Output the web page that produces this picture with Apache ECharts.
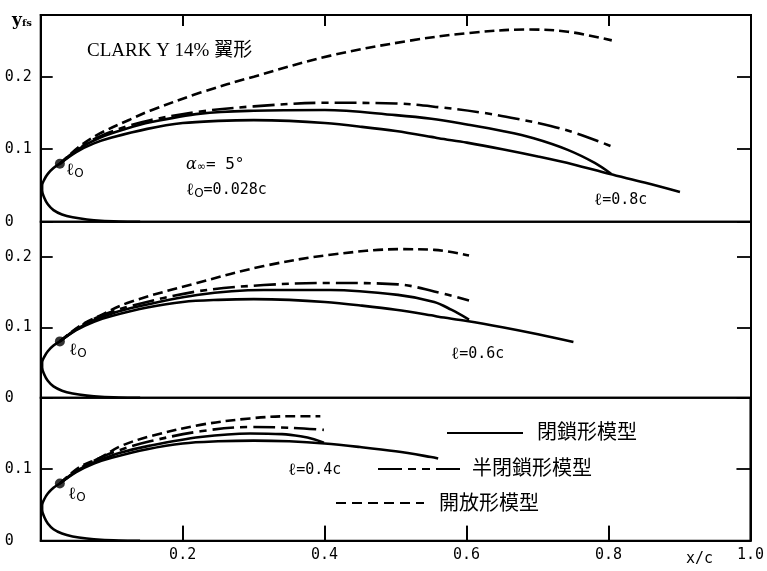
<!DOCTYPE html>
<html><head><meta charset="utf-8">
<script src="https://cdn.jsdelivr.net/npm/echarts@6/dist/echarts.min.js"></script>
<style>html,body{margin:0;padding:0;background:#fff}#c{width:767px;height:571px}</style>
</head><body><div id="c"></div>
<script>
// ---- tick labels ----
const xTickValues = [0.2, 0.4, 0.6, 0.8];
const xTickLabels = ['0.2', '0.4', '0.6', '0.8', '1.0'];
const yTickLabelsTop = ['0', '0.1', '0.2'];
const yTickLabelsMid = ['0', '0.1', '0.2'];
const yTickLabelsBot = ['0', '0.1'];
const panelTitles = ['0.8c', '0.6c', '0.4c'];
const legendNames = ['閉鎖形模型', '半閉鎖形模型', '開放形模型'];

// ---- airfoil (CLARK Y 14%) ----
const stagnationPoint = [0.027, 0.080];
const noseContour = [[0.027,0.080],[0.018,0.074],[0.010,0.066],[0.005,0.058],[0.002,0.050],[0.002,0.043],[0.005,0.033],[0.010,0.024],[0.018,0.016],[0.030,0.010],[0.045,0.006],[0.065,0.003],[0.085,0.0012],[0.11,0.0003],[0.14,0]];
const upperSurface = [[0.027,0.080],[0.05,0.096],[0.075,0.108],[0.10,0.116],[0.15,0.128],[0.20,0.136],[0.25,0.139],[0.30,0.140],[0.35,0.139],[0.40,0.136],[0.45,0.131],[0.50,0.125],[0.55,0.117],[0.56,0.115],[0.60,0.109],[0.65,0.100],[0.70,0.090],[0.75,0.079],[0.80,0.066],[0.85,0.054],[0.90,0.041]];
const surfaceEnd = [0.90, 0.75, 0.56];

// ---- free streamlines, l = 0.8c ----
const closedL08 = [[0.027,0.080],[0.055,0.101],[0.084,0.116],[0.12,0.128],[0.154,0.137],[0.225,0.149],[0.30,0.153],[0.40,0.154],[0.50,0.147],[0.55,0.142],[0.60,0.134],[0.65,0.125],[0.694,0.115],[0.742,0.099],[0.78,0.081],[0.803,0.066]];
const semiL08 = [[0.027,0.080],[0.055,0.102],[0.084,0.118],[0.12,0.131],[0.154,0.140],[0.225,0.152],[0.30,0.159],[0.40,0.164],[0.50,0.163],[0.56,0.158],[0.624,0.150],[0.67,0.142],[0.718,0.132],[0.76,0.120],[0.803,0.104]];
const openL08 = [[0.027,0.080],[0.055,0.104],[0.084,0.122],[0.126,0.141],[0.154,0.153],[0.225,0.178],[0.30,0.200],[0.408,0.229],[0.516,0.249],[0.601,0.260],[0.685,0.265],[0.742,0.262],[0.804,0.250]];

// ---- free streamlines, l = 0.6c ----
const closedL06 = [[0.027,0.080],[0.055,0.100],[0.084,0.114],[0.126,0.127],[0.22,0.146],[0.314,0.153],[0.408,0.153],[0.503,0.146],[0.554,0.136],[0.578,0.125],[0.603,0.111]];
const semiL06 = [[0.027,0.080],[0.055,0.101],[0.084,0.116],[0.126,0.130],[0.22,0.151],[0.314,0.160],[0.408,0.163],[0.503,0.161],[0.554,0.151],[0.603,0.138]];
const openL06 = [[0.027,0.080],[0.055,0.102],[0.084,0.117],[0.126,0.136],[0.22,0.163],[0.314,0.187],[0.408,0.203],[0.507,0.211],[0.554,0.210],[0.603,0.202]];

// ---- free streamlines, l = 0.4c ----
const closedL04 = [[0.027,0.080],[0.055,0.100],[0.084,0.113],[0.112,0.123],[0.154,0.133],[0.225,0.145],[0.295,0.150],[0.34,0.149],[0.366,0.146],[0.385,0.142],[0.399,0.137]];
const semiL04 = [[0.027,0.080],[0.055,0.101],[0.084,0.116],[0.112,0.127],[0.154,0.139],[0.225,0.153],[0.295,0.159],[0.35,0.158],[0.399,0.155]];
const openL04 = [[0.027,0.080],[0.055,0.103],[0.084,0.116],[0.112,0.132],[0.154,0.146],[0.225,0.162],[0.295,0.171],[0.35,0.174],[0.394,0.174]];

const panels = [
  {closed: closedL08, semi: semiL08, open: openL08, yLabels: yTickLabelsTop, max: 0.285},
  {closed: closedL06, semi: semiL06, open: openL06, yLabels: yTickLabelsMid, max: 0.25},
  {closed: closedL04, semi: semiL04, open: openL04, yLabels: yTickLabelsBot, max: 0.2}
];

const MONO = '"DejaVu Sans Mono", monospace';
const SERIF = '"DejaVu Serif", serif';
const CJK = '"Noto Sans CJK JP", sans-serif';
const gridPos = [{top: 15, height: 206.7}, {top: 221.7, height: 176}, {top: 397.7, height: 143}];

const grids = gridPos.map(g => ({left: 40.7, right: 16, top: g.top, height: g.height, show: true, borderColor: '#000', borderWidth: 2}));

const xAxes = [
  {type: 'value', gridIndex: 0, min: 0, max: 1, interval: 0.2, position: 'top',
   axisLine: {show: true, onZero: false, lineStyle: {color: '#000', width: 2}}, splitLine: {show: false},
   axisTick: {show: true, inside: true, length: 11, lineStyle: {color: '#000', width: 1.8}}, axisLabel: {show: false}},
  {type: 'value', gridIndex: 1, min: 0, max: 1, interval: 0.2, position: 'bottom',
   axisLine: {show: false, onZero: false}, splitLine: {show: false}, axisTick: {show: false}, axisLabel: {show: false}},
  {type: 'value', gridIndex: 2, min: 0, max: 1, interval: 0.2, position: 'bottom',
   axisLine: {show: true, onZero: false, lineStyle: {color: '#000', width: 2}}, splitLine: {show: false},
   axisTick: {show: true, inside: true, length: 15, lineStyle: {color: '#000', width: 1.8}},
   axisLabel: {show: true, color: '#000', fontFamily: MONO, fontSize: 15, margin: 7,
     formatter: v => { const k = Math.round(v * 5) - 1; return k >= 0 ? xTickLabels[k] : ''; }}}
];

const yAxes = [];
panels.forEach((p, i) => {
  yAxes.push({
    type: 'value', gridIndex: i, min: 0, max: p.max, interval: 0.1, position: 'left',
    axisLine: {show: true, onZero: false, lineStyle: {color: '#000', width: 2}}, splitLine: {show: false},
    axisTick: {show: true, inside: true, length: 12, lineStyle: {color: '#000', width: 1.8}},
    axisLabel: {color: '#000', fontFamily: MONO, fontSize: 15, margin: 36, align: 'left',
      formatter: v => { const k = Math.round(v * 10); return Math.abs(v - k / 10) < 1e-6 && k < p.yLabels.length ? p.yLabels[k] : ''; }}
  });
});
panels.forEach((p, i) => {
  yAxes.push({
    type: 'value', gridIndex: i, min: 0, max: p.max, interval: 0.1, position: 'right',
    axisLine: {show: true, onZero: false, lineStyle: {color: '#000', width: 2}}, splitLine: {show: false}, axisLabel: {show: false},
    axisTick: {show: true, inside: true, length: 14, lineStyle: {color: '#000', width: 1.8}}
  });
});

// tick marks on the outer top / bottom frame, placed through the axes' own scales
const tickMarks = (y0, y1) => ({silent: true, symbol: 'none', animation: false, label: {show: false},
  lineStyle: {color: '#000', width: 1.8, type: 'solid'},
  data: xTickValues.map(v => [{coord: [v, y0]}, {coord: [v, y1]}])});

const LW = 2.6;
const series = [];
panels.forEach((p, i) => {
  const base = {type: 'line', xAxisIndex: i, yAxisIndex: i, showSymbol: false, symbol: 'none', smooth: 0.35, silent: true, animation: false};
  series.push(Object.assign({}, base, {data: noseContour, lineStyle: {color: '#000', width: LW}}));
  series.push(Object.assign({}, base, {data: upperSurface.filter(d => d[0] <= surfaceEnd[i] + 1e-9), lineStyle: {color: '#000', width: LW}}));
  series.push(Object.assign({}, base, {data: p.closed, lineStyle: {color: '#000', width: LW}}));
  series.push(Object.assign({}, base, {data: p.semi, lineStyle: {color: '#000', width: LW, type: [22, 6, 7, 6]}}));
  series.push(Object.assign({}, base, {data: p.open, lineStyle: {color: '#000', width: LW, type: [10, 5]}}));
  const dot = {type: 'scatter', xAxisIndex: i, yAxisIndex: i, data: [stagnationPoint], symbol: 'circle', symbolSize: 10, itemStyle: {color: '#000'}, silent: true, animation: false, z: 5};
  if (i === 0) dot.markLine = tickMarks(p.max, p.max - 0.0152);
  if (i === 2) dot.markLine = tickMarks(0, 0.021);
  series.push(dot);
});

const richL = {l: {fontFamily: SERIF, fontSize: 17, fill: '#000'}, s: {fontFamily: '"DejaVu Sans", sans-serif', fontSize: 12, fill: '#000', padding: [6, 0, 0, 0]}, t: {fontFamily: MONO, fontSize: 15, fill: '#000'}};
const lSub = (x, y) => ({type: 'text', left: x, top: y - 11, style: {text: '{l|ℓ}{s|O}', rich: richL}});
const lEq = (x, y, t) => ({type: 'text', left: x, top: y - 11, style: {text: '{l|ℓ}{t|=' + t + '}', rich: richL}});
const txt = (x, y, t, size, font) => ({type: 'text', left: x, top: y - size * 0.6, style: {text: t, fontFamily: font, fontSize: size, fill: '#000'}});

const graphic = [
  {type: 'text', left: 12, top: 12, style: {text: '{y|y}{s|fs}', rich: {y: {fontFamily: SERIF, fontWeight: 'bold', fontSize: 17, fill: '#000'}, s: {fontFamily: SERIF, fontWeight: 'bold', fontSize: 10, fill: '#000', padding: [6, 0, 0, 0]}}}},
  txt(87, 53, 'CLARK Y 14% 翼形', 19, '"Liberation Serif", "Noto Sans CJK JP", serif'),
  {type: 'text', left: 186, top: 157, style: {text: '{a|α}{s|∞}{t|= 5°}', rich: {a: {fontFamily: SERIF, fontStyle: 'italic', fontSize: 16, fill: '#000'}, s: {fontFamily: '"DejaVu Sans", sans-serif', fontSize: 11, fill: '#000', padding: [5, 0, 0, 0]}, t: {fontFamily: MONO, fontSize: 16, fill: '#000'}}}},
  {type: 'text', left: 186, top: 182, style: {text: '{l|ℓ}{s|O}{t|=0.028c}', rich: richL}},
  lEq(594, 203, panelTitles[0]),
  lEq(451, 357, panelTitles[1]),
  lEq(288, 473, panelTitles[2]),
  lSub(66, 173), lSub(69, 353), lSub(68, 497),
  txt(686, 561, 'x/c', 15, MONO),
  {type: 'line', shape: {x1: 447, y1: 433, x2: 523, y2: 433}, style: {stroke: '#000', lineWidth: 2.2}},
  {type: 'line', shape: {x1: 378, y1: 469, x2: 462, y2: 469}, style: {stroke: '#000', lineWidth: 2.2, lineDash: [24, 6, 8, 6, 8, 6]}},
  {type: 'line', shape: {x1: 336, y1: 503, x2: 424, y2: 503}, style: {stroke: '#000', lineWidth: 2.2, lineDash: [10, 6]}},
  txt(537, 433, legendNames[0], 20, CJK),
  txt(472, 469, legendNames[1], 20, CJK),
  txt(439, 504, legendNames[2], 20, CJK)
];

const chart = echarts.init(document.getElementById('c'), null, {renderer: 'canvas'});
chart.setOption({animation: false, grid: grids, xAxis: xAxes, yAxis: yAxes, series: series, graphic: graphic});
</script></body></html>
